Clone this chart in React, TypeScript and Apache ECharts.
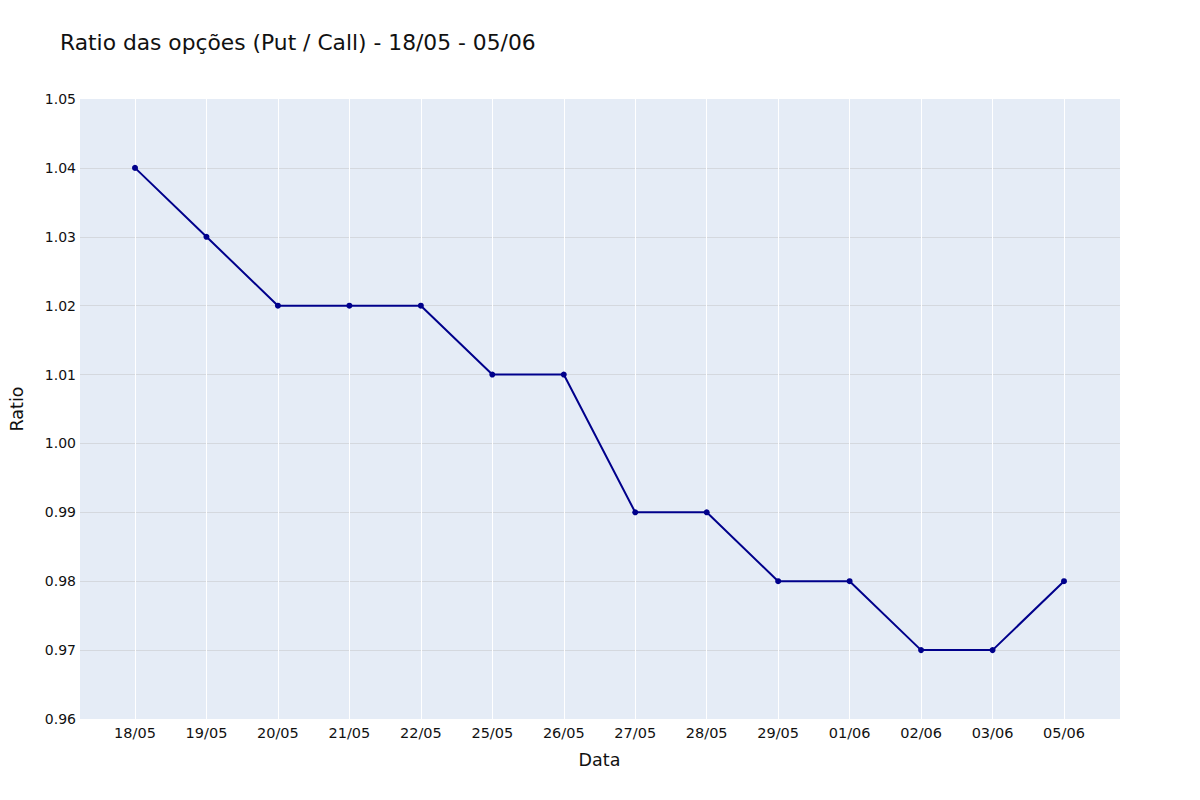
import React, { useEffect, useRef } from "react";
import * as echarts from "echarts";

const categories = ["18/05", "19/05", "20/05", "21/05", "22/05", "25/05", "26/05", "27/05", "28/05", "29/05", "01/06", "02/06", "03/06", "05/06"];
const ratios = [1.04, 1.03, 1.02, 1.02, 1.02, 1.01, 1.01, 0.99, 0.99, 0.98, 0.98, 0.97, 0.97, 0.98];
const yMin = 0.96;
const yMax = 1.05;
const yStep = 0.01;

const FONT = "DejaVu Sans";
const TXT = "#111111";

export default function App() {
  const ref = useRef<HTMLDivElement>(null);
  useEffect(() => {
    document.body.style.margin = "0";
    const chart = echarts.init(ref.current!, null, { renderer: "svg" });
    chart.setOption({
      animation: false,
      backgroundColor: "#ffffff",
      title: {
        text: "Ratio das opções (Put / Call) - 18/05 - 05/06",
        left: 55,
        top: 26,
        textStyle: { fontFamily: FONT, fontSize: 21.8, fontWeight: "normal", color: TXT },
      },
      grid: [
        { left: 80, right: 80, top: 99, bottom: 81, show: true, backgroundColor: "#e5ecf6", borderWidth: 0 },
        { left: 135, right: 136, top: 99, bottom: 81 },
      ],
      xAxis: [
        {
          gridIndex: 0, type: "value", min: 0, max: 1, show: false,
        },
        {
          gridIndex: 1, type: "category", data: categories, boundaryGap: false,
          axisLine: { show: false }, axisTick: { show: false },
          axisLabel: { fontFamily: FONT, fontSize: 14.5, color: TXT, margin: 6, interval: 0 },
          splitLine: { show: true, lineStyle: { color: "#ffffff", width: 1 } },
          name: "Data", nameLocation: "middle", nameGap: 32,
          nameTextStyle: { fontFamily: FONT, fontSize: 17.5, color: TXT },
        },
      ],
      yAxis: [
        {
          gridIndex: 0, type: "value", min: yMin, max: yMax, interval: yStep,
          axisLine: { show: false }, axisTick: { show: false },
          axisLabel: { fontFamily: FONT, fontSize: 14, color: TXT, margin: 4, formatter: (v: number) => v.toFixed(2) },
          splitLine: { show: true, showMinLine: false, showMaxLine: false, lineStyle: { color: "#d4d8de", width: 1 } },
          name: "Ratio", nameLocation: "middle", nameGap: 54,
          nameTextStyle: { fontFamily: FONT, fontSize: 17.5, color: TXT },
        },
        {
          gridIndex: 1, type: "value", min: yMin, max: yMax, interval: yStep, show: false,
          splitLine: { show: false },
        },
      ],
      series: [
        {
          type: "line",
          xAxisIndex: 1,
          yAxisIndex: 1,
          data: ratios,
          symbol: "circle",
          symbolSize: 6,
          lineStyle: { color: "#00008b", width: 2 },
          itemStyle: { color: "#00008b" },
        },
      ],
    });
    return () => chart.dispose();
  }, []);
  return <div ref={ref} style={{ width: 1200, height: 800 }} />;
}
